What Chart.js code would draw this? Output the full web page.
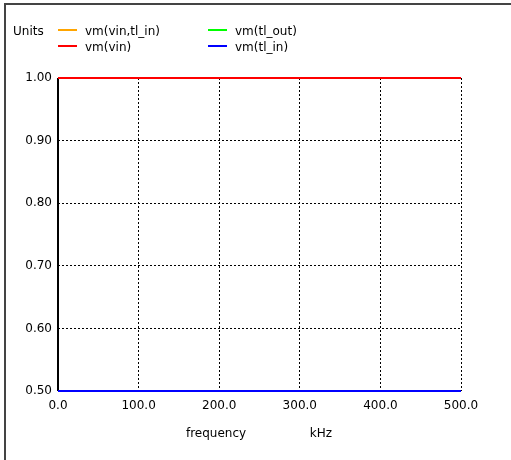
<!DOCTYPE html>
<html>
<head>
<meta charset="utf-8">
<script src="https://cdn.jsdelivr.net/npm/chart.js@4"></script>
<style>
  html, body { margin: 0; padding: 0; background: #fff; }
  #wrap { width: 511px; height: 460px; position: relative; }
</style>
</head>
<body>
<div id="wrap"><canvas id="plot"></canvas></div>
<script>
// data
const frequency = [0, 500];            // kHz
const seriesLabels = ['vm(vin,tl_in)', 'vm(tl_out)', 'vm(vin)', 'vm(tl_in)'];
const seriesColors = ['#ffa500', '#00ff00', '#ff0000', '#0000ff'];
const vmVinTlIn = [0.5, 0.5];
const vmTlOut = [0.5, 0.5];
const vmVin = [1.0, 1.0];
const vmTlIn = [0.5, 0.5];
const seriesValues = [vmVinTlIn, vmTlOut, vmVin, vmTlIn];
const xTicks = [0, 100, 200, 300, 400, 500];
const yTicks = [0.5, 0.6, 0.7, 0.8, 0.9, 1.0];

const FONT = 'DejaVu Sans';

// solid left axis, drawn under the data lines
const leftAxis = {
    id: 'leftAxis',
    beforeDatasetsDraw(chart) {
        const a = chart.chartArea;
        const ctx = chart.ctx;
        ctx.save();
        ctx.fillStyle = '#000';
        ctx.fillRect(a.left - 1, a.top, 2, a.bottom - a.top);
        ctx.restore();
    }
};

// legend + frame + axis captions
const decorations = {
    id: 'decorations',
    afterDraw(chart) {
        const ctx = chart.ctx;
        ctx.save();
        // frame (top and left only)
        ctx.fillStyle = '#444';
        ctx.fillRect(4, 3, 507, 2);
        ctx.fillRect(4, 3, 2, 457);

        ctx.font = '12px "' + FONT + '"';
        ctx.fillStyle = '#000';
        ctx.textBaseline = 'middle';
        ctx.textAlign = 'left';
        ctx.fillText('Units', 13, 32);

        const cols = [58, 208];
        const rows = [30, 46];
        const pos = [[0, 0], [1, 0], [0, 1], [1, 1]];
        seriesLabels.forEach((lab, i) => {
            const x = cols[pos[i][0]];
            const y = rows[pos[i][1]];
            ctx.fillStyle = seriesColors[i];
            ctx.fillRect(x, y - 1, 19, 2);
            ctx.fillStyle = '#000';
            ctx.fillText(lab, x + 27, y + 2);
        });

        ctx.textAlign = 'center';
        ctx.fillText('frequency', 216, 434);
        ctx.fillText('kHz', 321, 434);
        ctx.restore();
    }
};

const order = [3, 2, 1, 0];
const datasets = seriesValues.map((vals, i) => ({
    label: seriesLabels[i],
    data: vals.map((v, j) => ({ x: frequency[j], y: v })),
    borderColor: seriesColors[i],
    backgroundColor: seriesColors[i],
    borderWidth: 2,
    pointRadius: 0,
    fill: false,
    clip: false,
    order: order[i]
}));

new Chart('plot', {
    type: 'line',
    data: { datasets: datasets },
    plugins: [leftAxis, decorations],
    options: {
        responsive: true,
        maintainAspectRatio: false,
        animation: false,
        events: [],
        layout: { padding: { top: 78, right: 50, left: 0, bottom: 0 } },
        plugins: {
            legend: { display: false },
            tooltip: { enabled: false },
            title: { display: false }
        },
        scales: {
            x: {
                type: 'linear',
                min: 0,
                max: 500,
                afterBuildTicks: (s) => { s.ticks = xTicks.map(v => ({ value: v })); },
                afterFit: (s) => { s.height = 69; },
                ticks: {
                    color: '#000',
                    font: { family: FONT, size: 12 },
                    padding: 8,
                    maxRotation: 0,
                    callback: (v) => Number(v).toFixed(1)
                },
                grid: { color: '#000', lineWidth: 1, drawTicks: false },
                border: { display: false, dash: [2, 2] }
            },
            y: {
                type: 'linear',
                min: 0.5,
                max: 1.0,
                afterBuildTicks: (s) => { s.ticks = yTicks.map(v => ({ value: v })); },
                afterFit: (s) => { s.width = 58; },
                ticks: {
                    color: '#000',
                    font: { family: FONT, size: 12 },
                    padding: 6,
                    callback: (v) => Number(v).toFixed(2)
                },
                grid: { color: '#000', lineWidth: 1, drawTicks: false },
                border: { display: false, dash: [2, 2] }
            }
        }
    }
});
</script>
</body>
</html>
